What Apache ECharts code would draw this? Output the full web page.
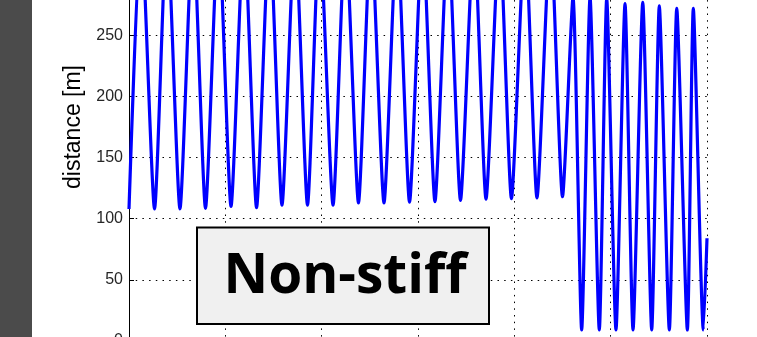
<!DOCTYPE html>
<html>
<head>
<meta charset="utf-8">
<script src="https://cdn.jsdelivr.net/npm/echarts@6/dist/echarts.min.js"></script>
<style>
html,body{margin:0;padding:0;background:#fff;}
#chart{width:757px;height:337px;}
</style>
</head>
<body>
<div id="chart"></div>
<script>
// time [s] of each turning point (minima and maxima)
const timeS = [
  0, 1.25, 2.65, 3.94, 5.29, 6.64, 7.94, 9.29, 10.59, 11.94,
  13.24, 14.59, 15.88, 17.23, 18.53, 19.78, 21.18, 22.47, 23.82, 25.12,
  26.47, 27.82, 29.12, 30.47, 31.76, 33.12, 34.41, 35.81, 37.06, 38.46,
  39.70, 41.11, 42.35, 43.75, 45.0,
  46.09, 46.99, 47.86, 48.82, 49.59, 50.55, 51.49, 52.32, 53.33, 54.26,
  55.05, 56.09, 56.86, 57.96, 58.58, 59.62, 60.0
];
// distance [m] at those points
const distanceM = [
  108, 342, 108, 341, 108, 340, 108.5, 339, 110, 338,
  109, 338, 111, 337, 111, 337, 111, 336, 113, 336,
  113, 335, 113.5, 335, 114, 335, 115, 334, 116, 334,
  116.5, 334, 117, 334, 118,
  281, 9, 281, 9, 280, 9, 276, 9, 277, 9,
  274, 9, 272, 9, 272, 9, 84
];
const yTicks = [0, 50, 100, 150, 200, 250, 300, 350];
const xTicks = [0, 10, 20, 30, 40, 50, 60];
const yLabel = 'distance [m]';
const boxLabel = 'Non-stiff';

const points = timeS.map((t, i) => [t, distanceM[i]]);
const chart = echarts.init(document.getElementById('chart'), null, {renderer: 'canvas'});
const dotted = {color: '#000', width: 1, type: [1.5, 5.2]};
chart.setOption({
  backgroundColor: '#ffffff',
  animation: false,
  grid: {left: 129, right: 50, top: -87, bottom: -4, containLabel: false, outerBoundsMode: 'none'},
  xAxis: {
    type: 'value', min: xTicks[0], max: xTicks[xTicks.length - 1], interval: 10,
    axisLine: {show: false},
    axisTick: {show: false},
    axisLabel: {show: false},
    splitLine: {show: true, lineStyle: dotted}
  },
  yAxis: {
    type: 'value', min: yTicks[0], max: yTicks[yTicks.length - 1], interval: 50,
    name: yLabel, nameLocation: 'middle', nameGap: 39,
    nameTextStyle: {fontFamily: 'Liberation Sans', fontSize: 23, color: '#000'},
    axisLine: {show: true, lineStyle: {color: '#000', width: 1}},
    axisTick: {show: true, inside: true, length: 5, lineStyle: {color: '#000'}},
    axisLabel: {fontFamily: 'Liberation Sans', fontSize: 16, color: '#262626', margin: 6},
    splitLine: {show: true, lineStyle: dotted}
  },
  series: [{
    type: 'line',
    data: points,
    showSymbol: false,
    smooth: 0.2,
    clip: true,
    lineStyle: {color: '#0000ff', width: 3.2},
    z: 3
  }],
  graphic: [
    {type: 'rect', left: 0, top: 0, shape: {width: 32, height: 337}, style: {fill: '#4b4b4b'}, z: 10},
    {type: 'rect', shape: {x: 197, y: 227.5, width: 292, height: 96.5},
     style: {fill: '#f0f0f0', stroke: '#000', lineWidth: 2}, z: 10},
    {type: 'text', x: 345, y: 277,
     style: {text: boxLabel, font: 'bold 55px "Open Sans"', fill: '#000', align: 'center', verticalAlign: 'middle'}, z: 11}
  ]
});
</script>
</body>
</html>
